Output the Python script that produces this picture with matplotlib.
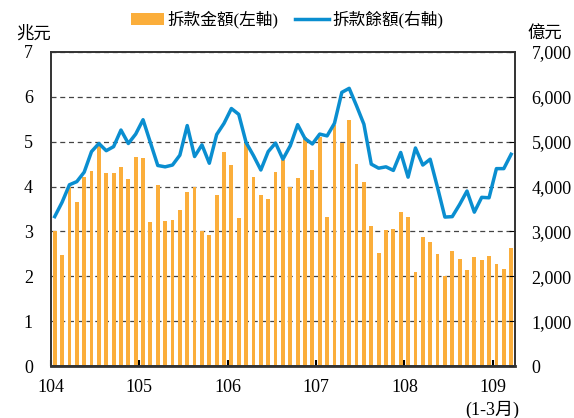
import numpy as np
import matplotlib
matplotlib.use("Agg")
import matplotlib.pyplot as plt

plt.rcParams['font.family'] = ['Liberation Serif', 'Noto Sans CJK TC']

# monthly, 104/01 .. 109/03
amount = [3.00, 2.47, 4.00, 3.65, 4.22, 4.34, 4.91, 4.31, 4.30, 4.44, 4.16, 4.67,
          4.63, 3.21, 4.04, 3.24, 3.26, 3.47, 3.89, 4.00, 3.00, 2.91, 3.81, 4.78,
          4.49, 3.31, 4.98, 4.22, 3.81, 3.73, 4.33, 4.59, 4.00, 4.19, 5.10, 4.38,
          5.10, 3.33, 5.37, 4.98, 5.49, 4.50, 4.11, 3.11, 2.53, 3.04, 3.06, 3.43,
          3.32, 2.10, 2.87, 2.77, 2.50, 2.00, 2.56, 2.38, 2.15, 2.42, 2.37, 2.45,
          2.28, 2.16, 2.64]
balance = [3330, 3650, 4040, 4110, 4320, 4780, 4960, 4800, 4890, 5260, 4960, 5170,
           5490, 4980, 4470, 4440, 4480, 4700, 5360, 4670, 4930, 4520, 5160, 5410,
           5740, 5610, 4980, 4690, 4370, 4780, 4970, 4610, 4910, 5380, 5070, 4950,
           5170, 5130, 5410, 6100, 6190, 5800, 5390, 4500, 4410, 4440, 4360, 4760,
           4210, 4860, 4480, 4610, 3980, 3320, 3330, 3600, 3900, 3430, 3760, 3750,
           4400, 4400, 4720]
year_labels = ['104', '105', '106', '107', '108', '109\n(1-3月)']

bar_color = '#FBAE3B'
line_color = '#0A8ED0'

fig = plt.figure(figsize=(5.74, 4.18), dpi=100)
ax = fig.add_axes([0.0889, 0.1244, 0.808, 0.7512])
ax2 = ax.twinx()

x = np.arange(len(amount)) + 0.5
ax.bar(x, amount, width=0.52, color=bar_color, label='拆款金額(左軸)', zorder=2)
ax2.plot(x, balance, color=line_color, lw=2.5, label='拆款餘額(右軸)', zorder=3)

ax.set_xlim(0, len(amount))
ax.set_ylim(0, 7)
ax2.set_ylim(0, 7000)
ax.set_yticks(range(8))
ax2.set_yticks(range(0, 7001, 1000))
ax2.set_yticklabels([f'{v:,}' for v in range(0, 7001, 1000)])
ax.set_xticks(np.arange(0, 61, 12))
ax.set_xticklabels(year_labels, va='top', ha='center', linespacing=1.35)

ax.grid(axis='y', ls=(0, (4, 3)), color='#444444', lw=0.9, zorder=1)
ax.set_axisbelow(True)

for a in (ax, ax2):
    for s in a.spines.values():
        s.set_color('#333333')
        s.set_linewidth(1.2)
ax.spines['bottom'].set_linewidth(2)
ax.tick_params(axis='x', direction='in', length=4, width=1.5, labelsize=13, pad=9)
ax.tick_params(axis='y', length=0, labelsize=13, pad=13)
ax2.tick_params(axis='y', direction='in', length=4, labelsize=13, pad=12)

fig.text(0.028, 0.918, '兆元', fontsize=12.5, va='center')
fig.text(0.919, 0.918, '億元', fontsize=12.5, va='center')

h1, l1 = ax.get_legend_handles_labels()
h2, l2 = ax2.get_legend_handles_labels()
fig.legend(h1 + h2, l1 + l2, loc='center', bbox_to_anchor=(0.5, 0.953),
           ncol=2, frameon=False, fontsize=12, handlelength=2.0,
           handletextpad=0.2, columnspacing=1.0, borderpad=0)

fig.savefig('out.png', dpi=100)
